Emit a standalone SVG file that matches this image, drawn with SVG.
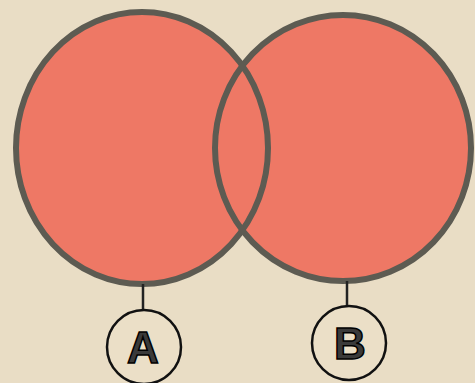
<svg xmlns="http://www.w3.org/2000/svg" width="475" height="383" viewBox="0 0 475 383">
<style>
.set{fill:#ee7865}
.rim{fill:none;stroke:#5d5b52;stroke-width:6}
.lab{fill:#ebdfc7;stroke:#111;stroke-width:2.5}
.ln{stroke:#222;stroke-width:2.5}
.t{font-family:"Liberation Sans",Arial,sans-serif;font-weight:bold;font-size:44px;fill:#3a3a3a;stroke:#000;stroke-width:1.5;text-anchor:middle}
</style>
<rect width="475" height="383" fill="#e9ddc5"/>
<g id="fills">
<ellipse class="set" cx="142" cy="148" rx="126" ry="136"/>
<ellipse class="set" cx="343" cy="148" rx="128" ry="133"/>
</g>
<g id="setA"><ellipse class="rim" cx="142" cy="148" rx="126" ry="136"/></g>
<g id="setB"><ellipse class="rim" cx="343" cy="148" rx="128" ry="133"/></g>
<g id="connectors">
<line class="ln" x1="143" y1="284" x2="143" y2="311"/>
<line class="ln" x1="347" y1="281" x2="347" y2="307"/>
</g>
<g id="labelA">
<circle class="lab" cx="144" cy="347" r="37"/>
<text class="t" x="143" y="363">A</text>
</g>
<g id="labelB">
<circle class="lab" cx="349" cy="343" r="37"/>
<text class="t" x="350" y="359">B</text>
</g>
</svg>
